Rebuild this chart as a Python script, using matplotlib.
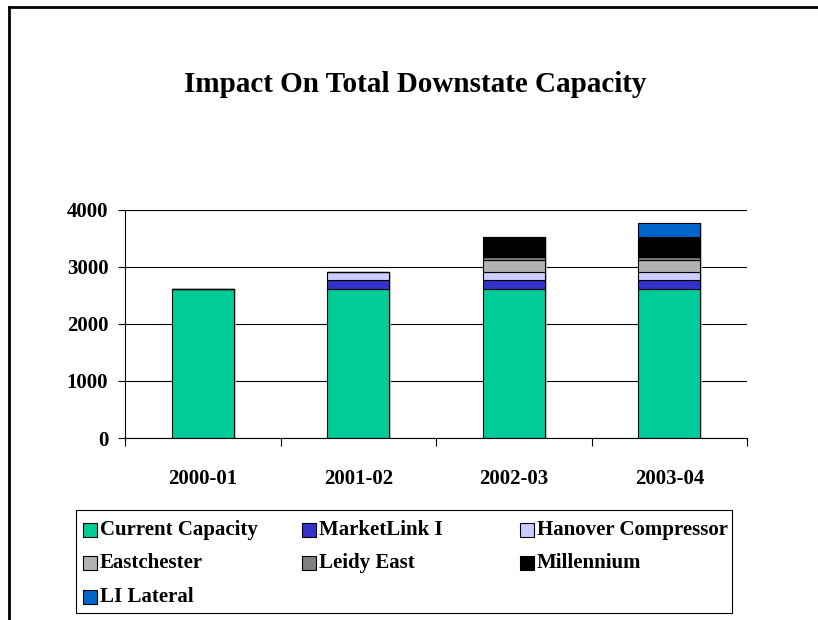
import matplotlib
matplotlib.use("Agg")
import matplotlib.pyplot as plt
from matplotlib.patches import Rectangle
from matplotlib.lines import Line2D
import matplotlib.patheffects as pe
import numpy as np

# Fiscal years on the category axis
years = ["2000-01", "2001-02", "2002-03", "2003-04"]

# Capacity contributions (stacked, bottom to top)
current_capacity = [2600, 2600, 2600, 2600]
marketlink_i = [0, 160, 160, 160]
hanover_compressor = [0, 140, 140, 140]
eastchester = [0, 0, 220, 220]
leidy_east = [0, 0, 40, 40]
millennium = [0, 0, 360, 360]
li_lateral = [0, 0, 0, 250]

series_names = ["Current Capacity", "MarketLink I", "Hanover Compressor",
                "Eastchester", "Leidy East", "Millennium", "LI Lateral"]
series_values = [current_capacity, marketlink_i, hanover_compressor,
                 eastchester, leidy_east, millennium, li_lateral]
series_colors = ["#00CC99", "#3333CC", "#CCCCFF", "#B2B2B2",
                 "#808080", "#000000", "#0066CC"]

y_ticks = [0, 1000, 2000, 3000, 4000]
title = "Impact On Total Downstate Capacity"

FONT = "Liberation Serif"
W, H = 818, 620

fig = plt.figure(figsize=(W / 100, H / 100), dpi=100)
fig.patch.set_facecolor("white")

ax = fig.add_axes([125 / W, 1 - 438 / H, 622 / W, 228.5 / H])

x = np.arange(len(years))
bottom = np.zeros(len(years))
shadow = [pe.SimplePatchShadow(offset=(1.5, 0), shadow_rgbFace="#c8c8c8", alpha=1.0),
          pe.Normal()]
for name, vals, col in zip(series_names, series_values, series_colors):
    vals = np.asarray(vals, dtype=float)
    bars = ax.bar(x, vals, width=0.4, bottom=bottom, color=col,
                  edgecolor="black", linewidth=0.8, zorder=3, label=name)
    for b in bars:
        b.set_path_effects(shadow)
    bottom += vals

ax.set_xlim(-0.5, len(years) - 0.5)
ax.set_ylim(0, 4000)
ax.set_yticks(y_ticks)
ax.set_yticklabels([str(v) for v in y_ticks], fontfamily=FONT,
                   fontweight="bold", fontsize=15)
ax.set_xticks(x)
ax.set_xticklabels(years, fontfamily=FONT, fontweight="bold", fontsize=15)
ax.set_xticks(np.arange(-0.5, len(years)), minor=True)

ax.tick_params(axis="x", which="major", length=0, pad=22)
ax.tick_params(axis="x", which="minor", length=6, width=0.8, direction="out")
ax.tick_params(axis="y", which="major", length=5, width=0.8, direction="out", pad=7)

ax.yaxis.grid(True, color="black", linewidth=0.8, zorder=0)
ax.set_axisbelow(True)
for side in ("top", "right"):
    ax.spines[side].set_visible(False)
for side in ("left", "bottom"):
    ax.spines[side].set_color("black")
    ax.spines[side].set_linewidth(0.8)
ax.spines["bottom"].set_zorder(4)

# Title
fig.text(415 / W, 1 - 84 / H, title, ha="center", va="center",
         fontsize=21, fontweight="bold", fontfamily=FONT)

# Outer frame (left and top edges)
fig.add_artist(Line2D([9 / W, 9 / W], [0, 1 - 7 / H], transform=fig.transFigure,
                      color="black", linewidth=2))
fig.add_artist(Line2D([9 / W, 1], [1 - 7 / H, 1 - 7 / H], transform=fig.transFigure,
                      color="black", linewidth=2))

# Legend box with three columns, filled row by row
lx0, lx1, ly0, ly1 = 76, 732, 510, 613
fig.add_artist(Rectangle((lx0 / W, 1 - ly1 / H), (lx1 - lx0) / W, (ly1 - ly0) / H,
                         transform=fig.transFigure, fill=False,
                         edgecolor="black", linewidth=0.8))
col_x = [83, 302, 520]
row_y = [530, 563, 597]
msz = 14
for i, (name, col) in enumerate(zip(series_names, series_colors)):
    r, c = divmod(i, 3)
    mx, my = col_x[c], row_y[r]
    fig.add_artist(Rectangle((mx / W, 1 - (my + msz / 2) / H), msz / W, msz / H,
                             transform=fig.transFigure, facecolor=col,
                             edgecolor="black", linewidth=0.8))
    fig.text((mx + msz + 3) / W, 1 - my / H, name, ha="left", va="center",
             fontsize=15, fontweight="bold", fontfamily=FONT)

fig.savefig("out.png", dpi=100, facecolor="white")
